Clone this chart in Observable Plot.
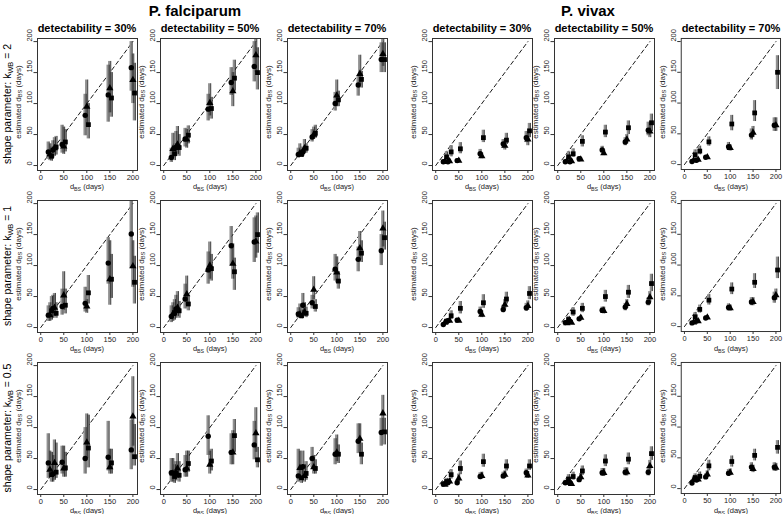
<!DOCTYPE html>
<html><head><meta charset="utf-8">
<script src="https://cdn.jsdelivr.net/npm/d3@7"></script>
<script src="https://cdn.jsdelivr.net/npm/@observablehq/plot@0.6"></script>
<style>
body{margin:0;background:#fff;}
#wrap{position:relative;width:784px;height:514px;overflow:hidden;background:#fff;font-family:"Liberation Sans",Arial,sans-serif;color:#000;}
.lab{position:absolute;white-space:nowrap;line-height:1;}
.panel{position:absolute;}
sub{font-size:70%;vertical-align:-0.25em;line-height:0;}
</style></head><body><div id="wrap"></div><script>
// ---- categories / ticks ----
const species = ["P. falciparum", "P. vivax"];
const detectability = ["30%", "50%", "70%"];
const shapeK = ["2", "1", "0.5"];
const trueD = [20, 30, 50, 100, 150, 200];
const symbols = ["circle", "triangle", "square"];
const axisTicks = [0, 50, 100, 150, 200];
const diagonal = [0, 200];

// ---- values: order = for each true d_BS: circle, triangle, square ----
const pf_k2_d30    = [22,18,15, 25,28,30, 34,31,38, 81,95,66, 114,125,109, 158,138,117];
const pf_k2_d30_lo = [10,8,7, 12,15,17, 20,18,22, 48,62,43, 70,85,78, 120,100,72];
const pf_k2_d30_hi = [38,35,30, 40,45,47, 65,62,58, 115,138,100, 162,168,150, 200,180,165];
const pf_k2_d50    = [13,27,19, 29,34,29, 43,42,49, 91,101,92, 134,120,141, 160,178,150];
const pf_k2_d50_lo = [5,12,8, 15,18,15, 30,28,35, 72,80,75, 113,95,120, 135,150,122];
const pf_k2_d50_hi = [28,52,35, 55,63,50, 60,58,64, 115,132,110, 158,150,170, 200,205,190];
const pf_k2_d70    = [18,20,18, 22,28,28, 46,50,52, 100,113,106, 130,148,139, 171,180,171];
const pf_k2_d70_lo = [12,14,13, 15,20,20, 38,42,44, 88,95,95, 112,130,125, 150,160,150];
const pf_k2_d70_hi = [28,35,25, 30,42,35, 58,62,65, 118,138,120, 145,178,152, 198,205,198];

const pf_k1_d30    = [20,20,27, 31,32,23, 34,52,36, 39,34,56, 104,78,78, 151,99,73];
const pf_k1_d30_lo = [10,10,12, 15,18,15, 20,28,22, 25,23,38, 70,36,47, 95,65,38];
const pf_k1_d30_hi = [35,40,50, 52,55,40, 62,90,62, 65,45,84, 145,140,118, 205,140,115];
const pf_k1_d50    = [18,22,24, 30,32,27, 46,54,38, 93,100,95, 132,103,90, 138,139,150];
const pf_k1_d50_lo = [8,10,12, 15,18,15, 30,35,27, 70,78,75, 100,78,60, 105,112,120];
const pf_k1_d50_hi = [35,40,45, 52,58,42, 70,83,50, 122,138,118, 163,135,112, 177,180,185];
const pf_k1_d70    = [22,21,19, 36,25,23, 40,61,34, 94,89,75, 110,128,120, 124,160,145];
const pf_k1_d70_lo = [15,15,14, 22,18,16, 30,45,25, 75,72,62, 90,110,105, 100,130,125];
const pf_k1_d70_hi = [32,38,28, 55,40,33, 52,82,45, 118,114,90, 130,155,140, 150,188,170];

const pf_k05_d30    = [43,32,24, 25,43,28, 44,34,35, 50,76,67, 52,36,43, 64,118,53];
const pf_k05_d30_lo = [18,20,12, 12,15,18, 25,20,20, 25,50,35, 30,25,25, 32,70,38];
const pf_k05_d30_hi = [90,62,60, 55,80,75, 70,70,60, 100,122,120, 110,65,65, 112,182,105];
const pf_k05_d50    = [27,26,21, 27,34,23, 32,34,42, 86,40,46, 60,60,87, 72,91,48];
const pf_k05_d50_lo = [12,12,10, 14,18,12, 20,20,28, 55,25,30, 40,40,60, 48,60,35];
const pf_k05_d50_hi = [50,50,40, 45,58,45, 55,62,62, 119,62,65, 90,95,113, 110,132,68];
const pf_k05_d70    = [22,35,19, 37,22,26, 50,36,34, 57,60,57, 78,82,57, 92,123,93];
const pf_k05_d70_lo = [12,15,10, 20,12,15, 35,25,25, 40,45,42, 58,60,40, 70,92,72];
const pf_k05_d70_hi = [65,62,40, 62,40,45, 68,55,48, 82,88,72, 106,106,75, 115,152,115];

const pv_k2_d30    = [6,6,14, 6,7,22, 8,8,27, 19,15,45, 35,32,41, 45,42,56];
const pv_k2_d30_lo = [4,4,8, 4,4,14, 6,6,19, 14,11,37, 28,25,34, 37,32,45];
const pv_k2_d30_hi = [9,9,22, 9,10,32, 11,11,37, 26,20,57, 42,40,52, 55,52,68];
const pv_k2_d50    = [6,7,14, 6,7,19, 11,10,39, 25,20,54, 38,42,61, 57,55,69];
const pv_k2_d50_lo = [4,5,9, 4,5,13, 8,8,30, 20,16,45, 32,35,50, 48,45,55];
const pv_k2_d50_hi = [9,10,22, 8,10,27, 14,13,48, 31,25,65, 45,50,72, 70,68,83];
const pv_k2_d70    = [5,7,16, 7,8,22, 12,12,37, 29,27,66, 48,52,84, 64,64,150];
const pv_k2_d70_lo = [4,5,10, 5,6,16, 10,10,30, 24,22,55, 40,44,70, 54,54,122];
const pv_k2_d70_hi = [7,9,24, 9,10,30, 14,15,45, 36,32,80, 58,62,104, 76,76,177];

const pv_k1_d30    = [5,8,10, 11,11,19, 12,11,31, 26,21,40, 29,37,46, 32,35,55];
const pv_k1_d30_lo = [3,5,7, 8,8,13, 9,9,22, 20,16,31, 24,30,38, 26,28,45];
const pv_k1_d30_hi = [7,11,14, 14,15,27, 15,14,42, 33,27,53, 36,45,57, 39,43,66];
const pv_k1_d50    = [8,7,13, 10,8,25, 14,16,31, 28,27,50, 33,38,57, 41,49,71];
const pv_k1_d50_lo = [6,5,9, 7,6,18, 12,13,24, 23,22,41, 27,31,47, 35,40,58];
const pv_k1_d50_hi = [11,10,18, 13,11,32, 17,19,39, 33,33,60, 39,45,68, 48,58,86];
const pv_k1_d70    = [6,7,16, 9,9,28, 14,15,43, 31,30,61, 40,40,72, 47,51,92];
const pv_k1_d70_lo = [4,5,11, 7,7,22, 12,12,35, 26,25,52, 34,34,62, 38,43,78];
const pv_k1_d70_hi = [8,9,23, 11,12,35, 17,18,52, 37,35,71, 47,47,86, 56,61,113];

const pv_k05_d30    = [9,8,13, 11,13,24, 11,18,34, 21,22,45, 22,24,38, 27,23,38];
const pv_k05_d30_lo = [6,5,8, 7,9,17, 8,12,24, 16,17,36, 17,18,30, 21,18,31];
const pv_k05_d30_hi = [13,12,18, 16,18,32, 15,25,46, 27,28,57, 28,30,48, 33,29,48];
const pv_k05_d50    = [11,11,17, 10,9,21, 16,20,30, 27,27,46, 28,28,49, 28,38,58];
const pv_k05_d50_lo = [8,8,12, 7,6,15, 12,15,23, 21,21,37, 22,22,40, 22,30,47];
const pv_k05_d50_hi = [15,15,24, 14,12,28, 21,26,38, 34,34,56, 35,35,59, 35,47,69];
const pv_k05_d70    = [9,14,18, 14,15,20, 19,23,37, 25,26,44, 35,32,54, 35,34,67];
const pv_k05_d70_lo = [6,10,13, 11,11,15, 15,18,29, 20,21,35, 29,26,45, 28,28,56];
const pv_k05_d70_hi = [12,19,24, 18,19,27, 24,29,46, 31,32,53, 42,38,64, 42,41,78];

// grid: rows = shape k, columns = species x detectability
const grid = [
  [[pf_k2_d30,pf_k2_d30_lo,pf_k2_d30_hi],[pf_k2_d50,pf_k2_d50_lo,pf_k2_d50_hi],[pf_k2_d70,pf_k2_d70_lo,pf_k2_d70_hi],
   [pv_k2_d30,pv_k2_d30_lo,pv_k2_d30_hi],[pv_k2_d50,pv_k2_d50_lo,pv_k2_d50_hi],[pv_k2_d70,pv_k2_d70_lo,pv_k2_d70_hi]],
  [[pf_k1_d30,pf_k1_d30_lo,pf_k1_d30_hi],[pf_k1_d50,pf_k1_d50_lo,pf_k1_d50_hi],[pf_k1_d70,pf_k1_d70_lo,pf_k1_d70_hi],
   [pv_k1_d30,pv_k1_d30_lo,pv_k1_d30_hi],[pv_k1_d50,pv_k1_d50_lo,pv_k1_d50_hi],[pv_k1_d70,pv_k1_d70_lo,pv_k1_d70_hi]],
  [[pf_k05_d30,pf_k05_d30_lo,pf_k05_d30_hi],[pf_k05_d50,pf_k05_d50_lo,pf_k05_d50_hi],[pf_k05_d70,pf_k05_d70_lo,pf_k05_d70_hi],
   [pv_k05_d30,pv_k05_d30_lo,pv_k05_d30_hi],[pv_k05_d50,pv_k05_d50_lo,pv_k05_d50_hi],[pv_k05_d70,pv_k05_d70_lo,pv_k05_d70_hi]]
];

// ---- layout ----
const FONT = '"Liberation Sans", Arial, sans-serif';
const colLeft = [0, 123, 250, 395, 517, 644];
const rowTop = [34, 196, 358];
const ML = 37, MR = 4, MT = 4, MB = 30, PW = 141, PH = 166;
const boxW = PW - ML - MR, boxH = PH - MT - MB;
const jitter = {circle: -3.5, triangle: 0, square: 3.5};

const wrap = document.getElementById("wrap");
function label(html, x, y, size, opts = {}) {
  const d = document.createElement("div");
  d.className = "lab";
  d.innerHTML = html;
  d.style.left = x + "px";
  d.style.top = y + "px";
  d.style.fontSize = size + "px";
  if (opts.bold) d.style.fontWeight = "bold";
  if (opts.color) d.style.color = opts.color;
  d.style.transform = "translate(-50%,-50%)" + (opts.rotate ? " rotate(-90deg)" : "");
  wrap.appendChild(d);
}

function panel(est, lo, hi) {
  const rows = est.map((v, i) => {
    const s = symbols[i % 3];
    return {x: trueD[Math.floor(i / 3)] + jitter[s], y: v, lo: lo[i], hi: hi[i], s};
  });
  return Plot.plot({
    width: PW, height: PH, marginLeft: ML, marginRight: MR, marginTop: MT, marginBottom: MB,
    x: {domain: [-7, 210]},
    y: {domain: [-8, 205]},
    symbol: {domain: symbols, range: symbols},
    style: {background: "transparent", overflow: "visible", fontFamily: FONT, color: "#000"},
    marks: [
      Plot.line(diagonal, {x: d => d, y: d => d, stroke: "#000", strokeWidth: 0.9, strokeDasharray: "4,3"}),
      Plot.ruleX(rows, {x: "x", y1: "lo", y2: "hi", stroke: "#909090", strokeWidth: 2.3, dx: -0.6}),
      Plot.ruleX(rows, {x: "x", y1: "lo", y2: "hi", stroke: "#111", strokeWidth: 0.8, dx: 0.9}),
      Plot.dot(rows, {x: "x", y: "y", symbol: "s", fill: "#000", stroke: "none", r: 2.7}),
      Plot.frame({stroke: "#333", strokeWidth: 1}),
      Plot.axisX({ticks: axisTicks, tickSize: 3, tickPadding: 1, fontSize: 7.5, label: null, stroke: "#333", fill: "#222"}),
      Plot.axisY({ticks: axisTicks, tickSize: 3.5, tickFormat: () => "", label: null, stroke: "#333"}),
      Plot.text(axisTicks, {y: d => d, text: d => String(d), frameAnchor: "left", dx: -8, rotate: -90, fontSize: 7.5, fill: "#222"})
    ]
  });
}

// panels
grid.forEach((row, r) => {
  row.forEach((cell, c) => {
    const svg = panel(cell[0], cell[1], cell[2]);
    const holder = document.createElement("div");
    holder.className = "panel";
    holder.style.left = colLeft[c] + "px";
    holder.style.top = rowTop[r] + "px";
    holder.appendChild(svg);
    wrap.appendChild(holder);
    const cx = colLeft[c] + ML + boxW / 2;
    const cy = rowTop[r] + MT + boxH / 2;
    // axis labels
    label("d<sub>BS</sub> (days)", cx, rowTop[r] + MT + boxH + 16.5, 7.5, {color: "#222"});
    label("estimated d<sub>BS</sub> (days)", colLeft[c] + 19, cy - 2, 8, {rotate: true, color: "#222"});
    if (r === 0) label("detectability = " + detectability[c % 3], cx, 28, 11, {bold: true});
  });
  label("shape parameter: k<sub>WB</sub> = " + shapeK[r], 7, rowTop[r] + MT + boxH / 2, 10.5, {rotate: true});
});
label(species[0], 195, 10, 15, {bold: true});
label(species[1], 588, 10, 15, {bold: true});
</script></body></html>
